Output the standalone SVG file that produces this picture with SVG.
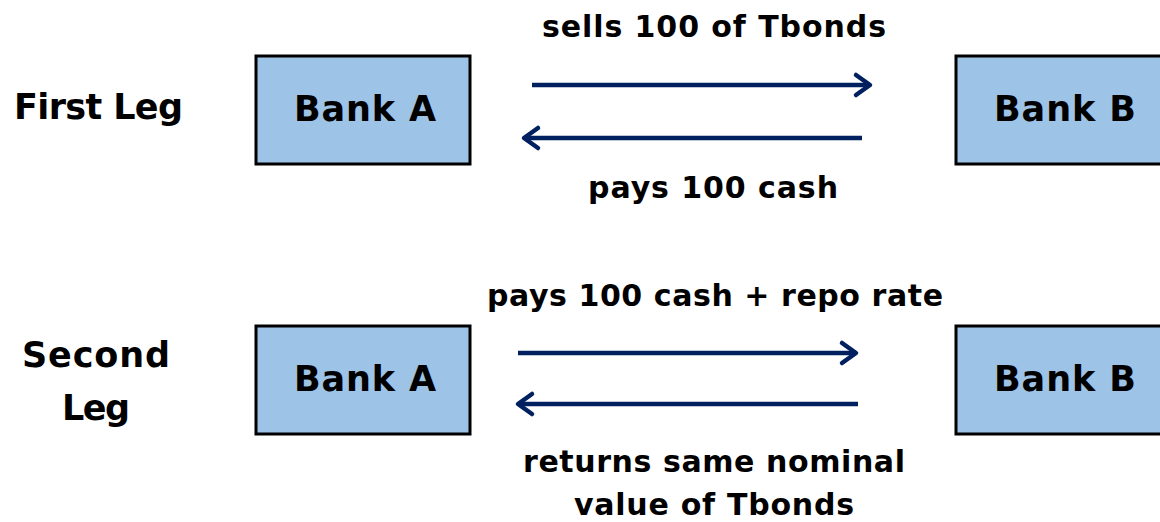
<svg xmlns="http://www.w3.org/2000/svg" width="1160" height="522" viewBox="0 0 1160 522">
<defs>
<style>
.box{fill:#9DC3E6;stroke:#000;stroke-width:3}
.t{font-family:"DejaVu Sans","Open Sans",sans-serif;font-weight:bold;fill:#000;text-anchor:middle}
.bank{font-size:35px}
.lbl{font-size:30px}
.leg{font-size:35px}
.arr{stroke:#002060;stroke-width:4.5;fill:none}
</style>
<marker id="ah" markerWidth="10" markerHeight="10" refX="8" refY="5" orient="auto" markerUnits="userSpaceOnUse" viewBox="0 0 10 10" overflow="visible">
<path d="M-6,-5 L8,5 L-6,15" fill="none" stroke="#002060" stroke-width="4.5" stroke-linecap="round" stroke-linejoin="round"/>
</marker>
</defs>
<text class="t leg" x="98.5" y="119" textLength="169" lengthAdjust="spacing">First Leg</text>
<text class="t leg" x="96" y="367" textLength="148" lengthAdjust="spacing">Second</text>
<text class="t leg" x="96" y="420" textLength="68" lengthAdjust="spacing">Leg</text>
<g id="bankA1"><rect class="box" x="256" y="56" width="214" height="108"/><text class="t bank" x="365" y="121" textLength="142" lengthAdjust="spacing">Bank A</text></g>
<g id="bankB1"><rect class="box" x="956" y="56" width="214" height="108"/><text class="t bank" x="1065" y="121" textLength="142" lengthAdjust="spacing">Bank B</text></g>
<g id="bankA2"><rect class="box" x="256" y="326" width="214" height="108"/><text class="t bank" x="365" y="391" textLength="142" lengthAdjust="spacing">Bank A</text></g>
<g id="bankB2"><rect class="box" x="956" y="326" width="214" height="108"/><text class="t bank" x="1065" y="391" textLength="142" lengthAdjust="spacing">Bank B</text></g>
<g id="connectors">
<line class="arr" x1="532" y1="85" x2="870" y2="85" marker-end="url(#ah)"/>
<line class="arr" x1="862" y1="138" x2="524" y2="138" marker-end="url(#ah)"/>
<line class="arr" x1="518" y1="353" x2="856" y2="353" marker-end="url(#ah)"/>
<line class="arr" x1="858" y1="404" x2="518" y2="404" marker-end="url(#ah)"/>
</g>
<text class="t lbl" x="714" y="37" textLength="344" lengthAdjust="spacing">sells 100 of Tbonds</text>
<text class="t lbl" x="713" y="198" textLength="250" lengthAdjust="spacing">pays 100 cash</text>
<text class="t lbl" x="715" y="306" textLength="456" lengthAdjust="spacing">pays 100 cash + repo rate</text>
<text class="t lbl" x="714" y="472" textLength="382" lengthAdjust="spacing">returns same nominal</text>
<text class="t lbl" x="714" y="515" textLength="280" lengthAdjust="spacing">value of Tbonds</text>
</svg>
